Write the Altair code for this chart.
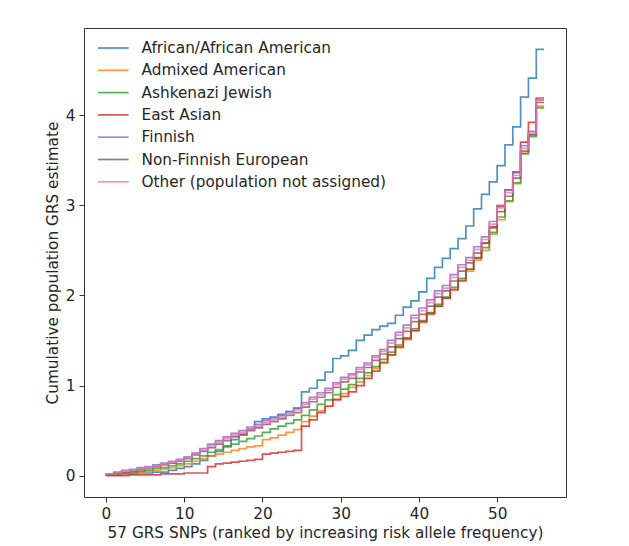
import altair as alt
import pandas as pd

snp_index = list(range(57))

populations = [
    "African/African American",
    "Admixed American",
    "Ashkenazi Jewish",
    "East Asian",
    "Finnish",
    "Non-Finnish European",
    "Other (population not assigned)",
]

colors = ["#1f77b4", "#ff7f0e", "#2ca02c", "#d62728", "#9467bd", "#8c564b", "#e377c2"]

african = [0.00, 0.01, 0.01, 0.02, 0.02, 0.03, 0.03, 0.04, 0.04, 0.06, 0.08, 0.10, 0.13, 0.17, 0.22,
           0.27, 0.33, 0.40, 0.45, 0.52, 0.60, 0.63, 0.65, 0.68, 0.71, 0.75, 0.93, 0.97, 1.06, 1.15,
           1.30, 1.33, 1.39, 1.50, 1.56, 1.62, 1.66, 1.69, 1.78, 1.87, 1.94, 2.04, 2.19, 2.31, 2.41,
           2.52, 2.63, 2.77, 2.96, 3.12, 3.26, 3.44, 3.67, 3.87, 4.20, 4.41, 4.73]

admixed = [0.00, 0.01, 0.01, 0.02, 0.03, 0.04, 0.05, 0.06, 0.07, 0.09, 0.11, 0.13, 0.16, 0.19, 0.22,
           0.24, 0.26, 0.28, 0.30, 0.32, 0.33, 0.40, 0.42, 0.45, 0.48, 0.51, 0.60, 0.66, 0.72, 0.77,
           0.85, 0.91, 0.98, 1.04, 1.11, 1.19, 1.26, 1.34, 1.42, 1.51, 1.61, 1.70, 1.79, 1.88, 1.97,
           2.07, 2.17, 2.27, 2.39, 2.50, 2.68, 2.84, 3.04, 3.24, 3.58, 3.78, 4.10]

ashkenazi = [0.00, 0.01, 0.02, 0.03, 0.04, 0.05, 0.06, 0.08, 0.09, 0.11, 0.13, 0.16, 0.19, 0.22, 0.26,
             0.29, 0.32, 0.35, 0.38, 0.41, 0.44, 0.48, 0.52, 0.55, 0.58, 0.62, 0.67, 0.73, 0.79, 0.84,
             0.90, 0.96, 1.01, 1.08, 1.14, 1.21, 1.29, 1.37, 1.45, 1.53, 1.63, 1.72, 1.81, 1.90, 1.98,
             2.09, 2.19, 2.29, 2.41, 2.53, 2.70, 2.87, 3.05, 3.25, 3.57, 3.76, 4.08]

east_asian = [0.00, 0.00, 0.00, 0.00, 0.01, 0.01, 0.01, 0.01, 0.02, 0.02, 0.02, 0.03, 0.03, 0.03, 0.10,
              0.13, 0.14, 0.15, 0.16, 0.17, 0.18, 0.24, 0.25, 0.26, 0.27, 0.28, 0.55, 0.62, 0.70, 0.77,
              0.84, 0.88, 0.93, 1.00, 1.08, 1.16, 1.25, 1.34, 1.43, 1.52, 1.61, 1.71, 1.80, 1.88, 1.97,
              2.06, 2.16, 2.29, 2.42, 2.58, 2.76, 2.99, 3.17, 3.37, 3.70, 3.92, 4.19]

finnish = [0.00, 0.02, 0.04, 0.06, 0.07, 0.09, 0.10, 0.12, 0.14, 0.16, 0.18, 0.21, 0.25, 0.30, 0.35,
           0.39, 0.43, 0.47, 0.50, 0.54, 0.57, 0.61, 0.64, 0.67, 0.71, 0.75, 0.81, 0.87, 0.92, 0.97,
           1.03, 1.09, 1.13, 1.20, 1.25, 1.33, 1.40, 1.50, 1.59, 1.67, 1.78, 1.86, 1.95, 2.05, 2.11,
           2.23, 2.34, 2.42, 2.54, 2.65, 2.82, 3.00, 3.17, 3.36, 3.66, 3.82, 4.17]

non_finnish = [0.00, 0.02, 0.03, 0.04, 0.05, 0.07, 0.08, 0.10, 0.12, 0.14, 0.16, 0.19, 0.23, 0.27, 0.31,
               0.35, 0.39, 0.43, 0.46, 0.50, 0.53, 0.57, 0.60, 0.63, 0.67, 0.70, 0.76, 0.82, 0.87, 0.92,
               0.98, 1.04, 1.08, 1.15, 1.20, 1.28, 1.35, 1.43, 1.52, 1.60, 1.71, 1.79, 1.88, 1.98, 2.05,
               2.16, 2.27, 2.36, 2.47, 2.58, 2.75, 2.93, 3.10, 3.30, 3.60, 3.78, 4.14]

other = [0.00, 0.02, 0.03, 0.05, 0.06, 0.08, 0.09, 0.11, 0.13, 0.15, 0.17, 0.20, 0.24, 0.28, 0.33,
         0.37, 0.41, 0.45, 0.48, 0.52, 0.55, 0.59, 0.62, 0.65, 0.69, 0.73, 0.79, 0.85, 0.90, 0.95,
         1.01, 1.07, 1.11, 1.18, 1.23, 1.31, 1.38, 1.47, 1.56, 1.64, 1.75, 1.83, 1.92, 2.02, 2.08,
         2.20, 2.31, 2.39, 2.51, 2.62, 2.79, 2.97, 3.14, 3.33, 3.63, 3.80, 4.16]

series = [african, admixed, ashkenazi, east_asian, finnish, non_finnish, other]

rows = []
for name, vals in zip(populations, series):
    for x, v in zip(snp_index, vals):
        rows.append({"snp": x, "value": v, "population": name})
df = pd.DataFrame(rows)

FONT = "DejaVu Sans"
FS = 15.3
TXT = "#262626"
ALPHA = 0.8
LW = 1.7

chart = alt.Chart(df).mark_line(
    interpolate="step-before", strokeWidth=LW, opacity=ALPHA, clip=True
).encode(
    x=alt.X(
        "snp:Q",
        scale=alt.Scale(domain=[-2.8, 58.8], nice=False, zero=False),
        axis=alt.Axis(
            values=[0, 10, 20, 30, 40, 50],
            title="57 GRS SNPs (ranked by increasing risk allele frequency)",
            titlePadding=4,
        ),
    ),
    y=alt.Y(
        "value:Q",
        scale=alt.Scale(domain=[-0.2365, 4.9665], nice=False, zero=False),
        axis=alt.Axis(
            values=[0, 1, 2, 3, 4],
            title="Cumulative population GRS estimate",
            titlePadding=5,
        ),
    ),
    color=alt.Color(
        "population:N",
        scale=alt.Scale(domain=populations, range=colors),
        legend=alt.Legend(
            title=None,
            orient="none",
            legendX=18.3,
            legendY=9,
            symbolType="M-1.53,0H1.53",
            symbolSize=400,
            symbolStrokeWidth=LW,
            symbolOpacity=ALPHA,
            labelOffset=17.2,
            rowPadding=2.3,
            labelFont=FONT,
            labelFontSize=FS,
            labelColor=TXT,
            labelLimit=400,
            padding=0,
        ),
    ),
).properties(
    width=482,
    height=469,
    autosize=alt.AutoSizeParams(type="none"),
    padding={"left": 76, "top": 20, "right": 20, "bottom": 45},
    background="white",
).configure_view(
    stroke="#333333", strokeWidth=1
).configure_axis(
    grid=False,
    domain=False,
    tickColor="#333333",
    tickSize=5,
    tickWidth=1,
    labelPadding=4,
    labelFont=FONT,
    labelFontSize=FS,
    labelColor=TXT,
    titleFont=FONT,
    titleFontSize=FS,
    titleFontWeight="normal",
    titleColor=TXT,
)

chart.save("out.html", embed_options={"renderer": "svg", "actions": False})
